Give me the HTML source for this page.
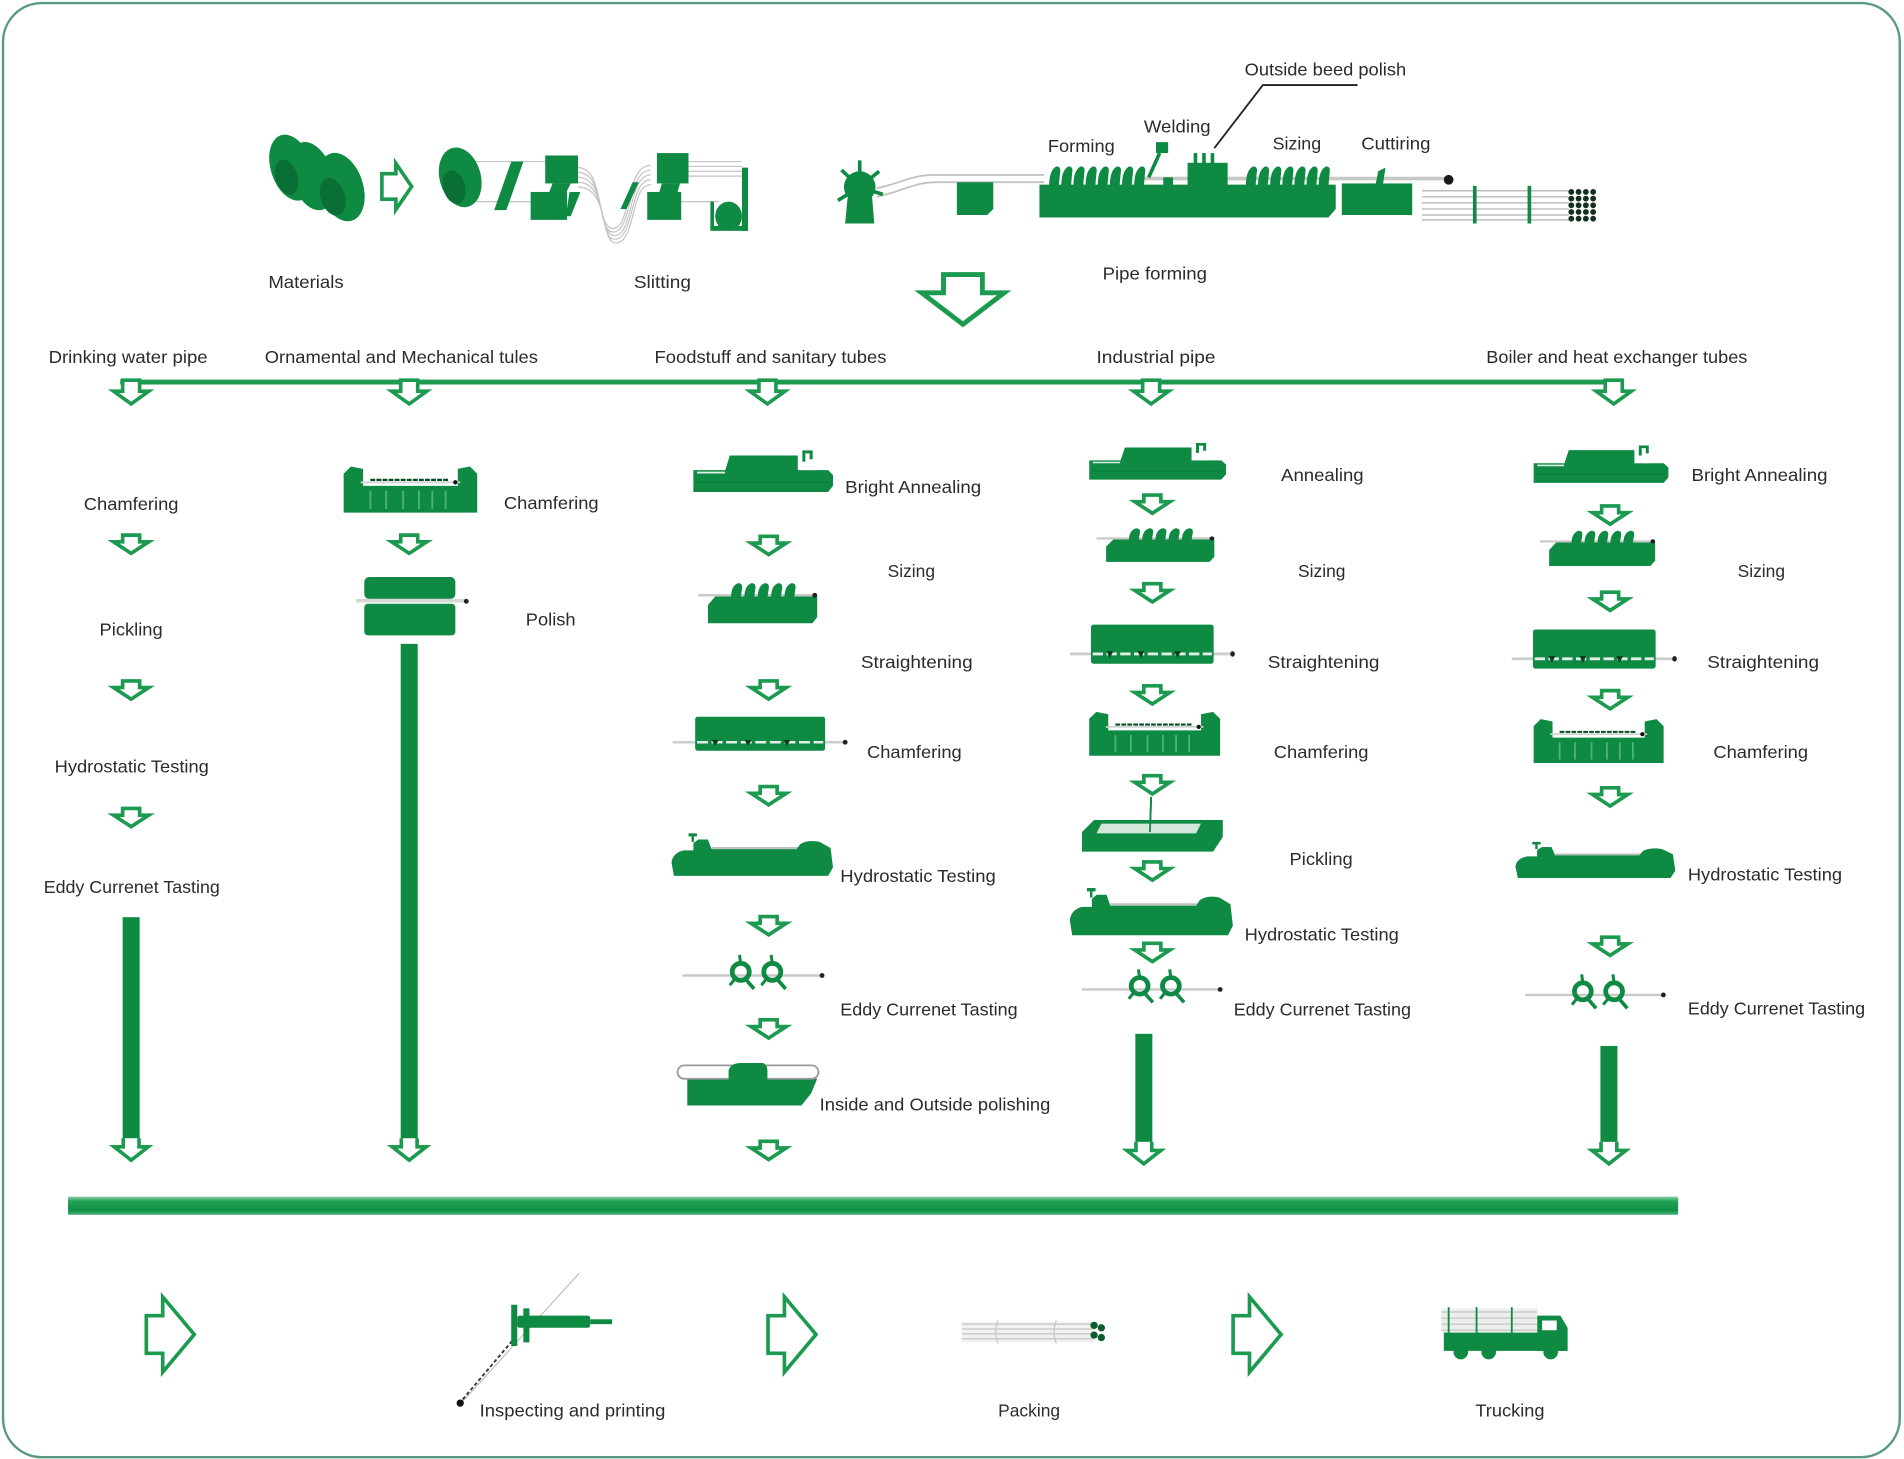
<!DOCTYPE html>
<html>
<head>
<meta charset="utf-8">
<style>
html,body{margin:0;padding:0;background:#fff;}
svg{display:block;}
text{font-family:"Liberation Sans",sans-serif;font-size:14.5px;fill:#2b2b2b;}
</style>
</head>
<body>
<svg width="1904" height="1459" viewBox="0 0 1568 1201" preserveAspectRatio="none" xmlns="http://www.w3.org/2000/svg">
<defs>
  <linearGradient id="barG" x1="0" y1="0" x2="0" y2="1">
    <stop offset="0" stop-color="#8fd2a8"/>
    <stop offset="0.25" stop-color="#22a358"/>
    <stop offset="0.75" stop-color="#0f9045"/>
    <stop offset="1" stop-color="#4db27a"/>
  </linearGradient>
  <!-- small hollow down arrow -->
  <path id="da" d="M-7,1.5 H7 V7 H14.5 L0,16.5 L-14.5,7 H-7 Z" fill="#fff" stroke="#1b9a50" stroke-width="3" stroke-linejoin="miter"/>
  <path id="dat" d="M-7,0 H7 V9 H14.5 L0,19.5 L-14.5,9 H-7 Z" fill="#fff" stroke="#1b9a50" stroke-width="3"/>
  <path id="dab" d="M-6.5,0 V7 H-14 L0,18 L14,7 H6.5 V0" fill="#fff" stroke="#1b9a50" stroke-width="3"/>

  <!-- Annealing machine -->
  <g id="mA">
    <polygon points="0,17 111,17 115,21 115,30 111,35 0,35" fill="#0e8a43"/>
    <polygon points="30,5 86,5 86,18 26,18" fill="#0e8a43"/>
    <path d="M91,18 V2 H97 V8" stroke="#0e8a43" stroke-width="2.5" fill="none"/>
    <rect x="88" y="10" width="11" height="7" fill="#fff"/>
    <line x1="3" y1="19" x2="26" y2="19" stroke="#dfeee5" stroke-width="1.5"/>
    <line x1="2" y1="27" x2="112" y2="27" stroke="#0b7a3a" stroke-width="1"/>
  </g>
  <!-- Sizing machine -->
  <g id="mS">
    <line x1="0" y1="11" x2="96" y2="11" stroke="#c9c9c9" stroke-width="2"/>
    <polygon points="8,19 14,12 98,12 98,29 94,34 8,34" fill="#0e8a43"/>
    <path d="M27,13 Q27,3 33,1 Q37,1 36,6 L35,13 Z M38,13 Q38,3 44,1 Q48,1 47,6 L46,13 Z M49,13 Q49,3 55,1 Q59,1 58,6 L57,13 Z M60,13 Q60,3 66,1 Q70,1 69,6 L68,13 Z M71,13 Q71,3 77,1 Q81,1 80,6 L79,13 Z" fill="#0e8a43"/>
    <line x1="80" y1="11" x2="96" y2="11" stroke="#c9c9c9" stroke-width="2"/>
    <circle cx="96" cy="11" r="2" fill="#222"/>
  </g>
  <!-- Straightening machine -->
  <g id="mT">
    <line x1="0" y1="22" x2="144" y2="22" stroke="#c9cfcb" stroke-width="2"/>
    <rect x="18.5" y="1" width="107" height="28" rx="2" fill="#0e8a43"/>
    <line x1="20" y1="22" x2="124" y2="22" stroke="#e4eee8" stroke-width="2" stroke-dasharray="9 3"/>
    <polygon points="32,20 38,20 35,25" fill="#07401f"/>
    <polygon points="59,20 65,20 62,25" fill="#07401f"/>
    <polygon points="91,20 97,20 94,25" fill="#07401f"/>
    <circle cx="142" cy="22" r="2" fill="#222"/>
  </g>
  <!-- Chamfering machine -->
  <g id="mC">
    <path d="M0,6 L6,0 L16,2 V16 H94 V2 L104,0 L110,6 V38 H0 Z" fill="#0e8a43"/>
    <line x1="14" y1="13" x2="96" y2="13" stroke="#cfd6d2" stroke-width="1.5"/>
    <line x1="22" y1="11" x2="86" y2="11" stroke="#0a4a22" stroke-width="1.8" stroke-dasharray="4 1"/>
    <circle cx="92" cy="13" r="1.8" fill="#111"/>
    <g stroke="#4fb37a" stroke-width="1.5">
      <line x1="22" y1="20" x2="22" y2="35"/>
      <line x1="35" y1="20" x2="35" y2="35"/>
      <line x1="49" y1="20" x2="49" y2="35"/>
      <line x1="62" y1="20" x2="62" y2="35"/>
      <line x1="73" y1="20" x2="73" y2="35"/>
      <line x1="84" y1="20" x2="84" y2="35"/>
    </g>
  </g>
  <!-- Hydrostatic machine -->
  <g id="mH">
    <line x1="33" y1="12" x2="104" y2="12" stroke="#bdbdbd" stroke-width="1.5"/>
    <path d="M0,24 Q1,16 10,14 H18 V8 L22,5 H30 L33,13 H103 L106,9 Q112,5 122,7 L131,12 L133,28 L129,35 H2 Z" fill="#0e8a43"/>
    <rect x="14" y="0" width="7" height="2.5" fill="#0e8a43"/>
    <line x1="17.5" y1="2" x2="17.5" y2="7" stroke="#0e8a43" stroke-width="2"/>
  </g>
  <!-- Eddy current machine -->
  <g id="mE">
    <line x1="0" y1="18" x2="115" y2="18" stroke="#c8c8c8" stroke-width="2"/>
    <circle cx="115" cy="18" r="2" fill="#222"/>
    <g stroke="#0e8a43" fill="none">
      <circle cx="48" cy="15" r="7" stroke-width="4"/>
      <circle cx="74" cy="15" r="7" stroke-width="4"/>
      <line x1="48" y1="8" x2="47" y2="1" stroke-width="2.5"/>
      <line x1="74" y1="8" x2="73" y2="1" stroke-width="2.5"/>
      <line x1="52" y1="21" x2="59" y2="29" stroke-width="3"/>
      <line x1="78" y1="21" x2="85" y2="29" stroke-width="3"/>
      <line x1="43" y1="21" x2="39" y2="26" stroke-width="2.5"/>
      <line x1="69" y1="21" x2="65" y2="26" stroke-width="2.5"/>
    </g>
  </g>
  <!-- Pickling machine -->
  <g id="mP">
    <line x1="57" y1="-19" x2="56" y2="12" stroke="#0e8a43" stroke-width="1.5"/>
    <path d="M0,10 L10,0 H116 V14 L108,26 H0 Z" fill="#0e8a43"/>
    <polygon points="16,3 98,3 94,11 12,11" fill="#d5e6da"/>
    <line x1="57" y1="-19" x2="56" y2="10" stroke="#0e8a43" stroke-width="1.5"/>
  </g>
</defs>

<!-- Border -->
<rect x="2.5" y="2.5" width="1562" height="1197" rx="32" ry="32" fill="#fff" stroke="#5b9a80" stroke-width="2"/>

<!-- ===== TOP: Materials ===== -->
<g fill="#0e8a43">
  <ellipse cx="240" cy="138" rx="17" ry="28" transform="rotate(-18 240 138)"/>
  <ellipse cx="257" cy="145" rx="17" ry="29" transform="rotate(-18 257 145)"/>
  <ellipse cx="281" cy="154" rx="18" ry="29" transform="rotate(-18 281 154)"/>
</g>
<g fill="#0a6f35">
  <ellipse cx="236" cy="146" rx="9" ry="15" transform="rotate(-18 236 146)"/>
  <ellipse cx="274" cy="162" rx="10" ry="16" transform="rotate(-18 274 162)"/>
</g>
<path d="M314.5,143 H326 V134.5 L339,153.5 L326,172.5 V164 H314.5 Z" fill="#fff" stroke="#1b9a50" stroke-width="3"/>

<!-- Slitting line -->
<g stroke="#c4c4c4" stroke-width="1" fill="none">
  <line x1="385" y1="133" x2="453" y2="133"/>
  <line x1="385" y1="166" x2="440" y2="166"/>
  <path d="M476,138 C498,138 490,188 505,188 C520,188 515,136 536,136"/>
  <path d="M476,142 C499,142 491,191 505,191 C521,191 516,140 536,140"/>
  <path d="M476,146 C500,146 492,194 506,194 C522,194 517,144 536,144"/>
  <path d="M476,150 C501,150 493,197 506,197 C523,197 518,148 536,148"/>
  <path d="M476,154 C502,154 494,200 507,200 C524,200 519,152 536,152"/>
  <line x1="567" y1="133" x2="611" y2="133"/>
  <line x1="567" y1="137" x2="611" y2="137"/>
  <line x1="567" y1="141" x2="611" y2="141"/>
  <line x1="567" y1="145" x2="611" y2="145"/>
  <line x1="560" y1="166" x2="592" y2="166"/>
</g>
<g fill="#0e8a43">
  <ellipse cx="379" cy="146" rx="17" ry="25" transform="rotate(-15 379 146)"/>
  <polygon points="421,133 431,133 417,173 407,173"/>
  <rect x="449" y="128" width="27" height="23"/>
  <polygon points="455,151 470,151 466,159 452,159"/>
  <rect x="437" y="158" width="30" height="23"/>
  <polygon points="469,158 478,158 470,178 466,178"/>
  <polygon points="521,150 526,150 516,172 511,172"/>
  <rect x="541" y="126" width="26" height="25"/>
  <rect x="533" y="158" width="28" height="23"/>
  <polygon points="545,151 560,151 558,158 543,158"/>
  <rect x="611" y="138" width="5" height="52"/>
  <ellipse cx="600" cy="178" rx="11" ry="12"/>
  <rect x="585" y="186" width="31" height="4"/>
  <rect x="585" y="166" width="3" height="22"/>
</g>
<ellipse cx="374" cy="154" rx="9" ry="14" transform="rotate(-15 374 154)" fill="#0a6f35"/>

<!-- Pipe forming line -->
<g stroke="#c2c2c2" stroke-width="1.5" fill="none">
  <path d="M722,155 C745,150 750,144 770,144 L860,144"/>
  <path d="M722,162 C745,157 752,150 772,150 L860,150"/>
</g>
<line x1="940" y1="147" x2="1193" y2="147" stroke="#c8c8c8" stroke-width="3"/>
<circle cx="1193" cy="148" r="4" fill="#1a1a1a"/>
<g fill="#0e8a43">
  <circle cx="708" cy="154" r="13"/>
  <g stroke="#0e8a43" stroke-width="3">
    <line x1="708" y1="154" x2="708" y2="132"/>
    <line x1="708" y1="154" x2="693" y2="140"/>
    <line x1="708" y1="154" x2="724" y2="141"/>
    <line x1="708" y1="154" x2="690" y2="165"/>
    <line x1="708" y1="154" x2="727" y2="160"/>
  </g>
  <polygon points="698,163 718,160 720,184 696,184"/>
  <polygon points="788,150 818,150 818,172 813,177 788,177"/>
  <polygon points="856,152 1100,152 1100,172 1094,179 856,179"/>
  <path d="M864,153 Q864,140 870,137 Q874,137 873,142 L872,153 Z M874,153 Q874,140 880,137 Q884,137 883,142 L882,153 Z M884,153 Q884,140 890,137 Q894,137 893,142 L892,153 Z M894,153 Q894,140 900,137 Q904,137 903,142 L902,153 Z M904,153 Q904,140 910,137 Q914,137 913,142 L912,153 Z M914,153 Q914,140 920,137 Q924,137 923,142 L922,153 Z M924,153 Q924,140 930,137 Q934,137 933,142 L932,153 Z M934,153 Q934,140 940,137 Q944,137 943,142 L942,153 Z"/>
  <path d="M1026,153 Q1026,140 1032,137 Q1036,137 1035,142 L1034,153 Z M1036,153 Q1036,140 1042,137 Q1046,137 1045,142 L1044,153 Z M1046,153 Q1046,140 1052,137 Q1056,137 1055,142 L1054,153 Z M1056,153 Q1056,140 1062,137 Q1066,137 1065,142 L1064,153 Z M1066,153 Q1066,140 1072,137 Q1076,137 1075,142 L1074,153 Z M1076,153 Q1076,140 1082,137 Q1086,137 1085,142 L1084,153 Z M1086,153 Q1086,140 1092,137 Q1096,137 1095,142 L1094,153 Z"/>
  <rect x="952" y="117" width="10" height="9"/>
  <rect x="983" y="126" width="3" height="10"/>
  <rect x="990" y="126" width="3" height="10"/>
  <rect x="997" y="126" width="3" height="10"/>
  <rect x="978" y="134" width="33" height="19"/>
  <rect x="958" y="146" width="8" height="7"/>
  <rect x="1105" y="151" width="58" height="26"/>
  <polygon points="1133,151 1135,141 1141,138 1139,151"/>
</g>
<line x1="955" y1="126" x2="946" y2="146" stroke="#0e8a43" stroke-width="3"/>
<!-- pipes bundle -->
<g stroke="#bdbdbd" stroke-width="1.2">
  <line x1="1171" y1="157" x2="1292" y2="157"/>
  <line x1="1171" y1="162" x2="1292" y2="162"/>
  <line x1="1171" y1="167" x2="1292" y2="167"/>
  <line x1="1171" y1="172" x2="1292" y2="172"/>
  <line x1="1171" y1="177" x2="1292" y2="177"/>
  <line x1="1171" y1="181" x2="1292" y2="181"/>
</g>
<rect x="1213" y="153" width="3" height="31" fill="#0e8a43"/>
<rect x="1258" y="153" width="3" height="31" fill="#0e8a43"/>
<g fill="#13301f">
  <circle cx="1294" cy="158" r="2.4"/><circle cx="1300" cy="158" r="2.4"/><circle cx="1306" cy="158" r="2.4"/><circle cx="1312" cy="158" r="2.4"/>
  <circle cx="1294" cy="163.5" r="2.4"/><circle cx="1300" cy="163.5" r="2.4"/><circle cx="1306" cy="163.5" r="2.4"/><circle cx="1312" cy="163.5" r="2.4"/>
  <circle cx="1294" cy="169" r="2.4"/><circle cx="1300" cy="169" r="2.4"/><circle cx="1306" cy="169" r="2.4"/><circle cx="1312" cy="169" r="2.4"/>
  <circle cx="1294" cy="174.5" r="2.4"/><circle cx="1300" cy="174.5" r="2.4"/><circle cx="1306" cy="174.5" r="2.4"/><circle cx="1312" cy="174.5" r="2.4"/>
  <circle cx="1294" cy="180" r="2.4"/><circle cx="1300" cy="180" r="2.4"/><circle cx="1306" cy="180" r="2.4"/><circle cx="1312" cy="180" r="2.4"/>
</g>

<!-- leader line -->
<path d="M1118,70 H1040 L1000,122" fill="none" stroke="#222" stroke-width="1.5"/>

<!-- top labels -->
<text x="1025" y="62" textLength="133" lengthAdjust="spacingAndGlyphs">Outside beed polish</text>
<text x="942" y="109" textLength="55" lengthAdjust="spacingAndGlyphs">Welding</text>
<text x="863" y="125" textLength="55" lengthAdjust="spacingAndGlyphs">Forming</text>
<text x="1048" y="123" textLength="40" lengthAdjust="spacingAndGlyphs">Sizing</text>
<text x="1121" y="123" textLength="57" lengthAdjust="spacingAndGlyphs">Cuttiring</text>
<text x="221" y="237" textLength="62" lengthAdjust="spacingAndGlyphs">Materials</text>
<text x="522" y="237" textLength="47" lengthAdjust="spacingAndGlyphs">Slitting</text>
<text x="908" y="230" textLength="86" lengthAdjust="spacingAndGlyphs">Pipe forming</text>

<!-- big down arrow -->
<path d="M777,226 H809 V241 H827 L793,267 L759,241 H777 Z" fill="#fff" stroke="#1b9a50" stroke-width="4"/>

<!-- headers -->
<text x="40" y="299" textLength="131" lengthAdjust="spacingAndGlyphs">Drinking water pipe</text>
<text x="218" y="299" textLength="225" lengthAdjust="spacingAndGlyphs">Ornamental and Mechanical tules</text>
<text x="539" y="299" textLength="191" lengthAdjust="spacingAndGlyphs">Foodstuff and sanitary tubes</text>
<text x="903" y="299" textLength="98" lengthAdjust="spacingAndGlyphs">Industrial pipe</text>
<text x="1224" y="299" textLength="215" lengthAdjust="spacingAndGlyphs">Boiler and heat exchanger tubes</text>

<!-- distribution line + top arrows -->
<rect x="99" y="312.5" width="1233" height="4" fill="#1c9a50"/>
<use href="#dat" x="108" y="313"/>
<use href="#dat" x="337" y="313"/>
<use href="#dat" x="632" y="313"/>
<use href="#dat" x="948" y="313"/>
<use href="#dat" x="1329" y="313"/>

<!-- ===== Column 1 ===== -->
<text x="69" y="420" textLength="78" lengthAdjust="spacingAndGlyphs">Chamfering</text>
<use href="#da" x="108" y="439"/>
<text x="82" y="523" textLength="52" lengthAdjust="spacingAndGlyphs">Pickling</text>
<use href="#da" x="108" y="559"/>
<text x="45" y="636" textLength="127" lengthAdjust="spacingAndGlyphs">Hydrostatic Testing</text>
<use href="#da" x="108" y="664"/>
<text x="36" y="735" textLength="145" lengthAdjust="spacingAndGlyphs">Eddy Currenet Tasting</text>
<rect x="101" y="755" width="14" height="183" fill="#0e8a43"/>
<use href="#dab" x="108" y="937"/>

<!-- ===== Column 2 ===== -->
<use href="#mC" transform="translate(283,384)"/>
<text x="415" y="419" textLength="78" lengthAdjust="spacingAndGlyphs">Chamfering</text>
<use href="#da" x="337" y="439"/>
<rect x="300" y="475" width="75" height="18" rx="4" fill="#0e8a43"/>
<rect x="300" y="497" width="75" height="26" rx="3" fill="#0e8a43"/>
<line x1="293" y1="494.5" x2="384" y2="494.5" stroke="#d5d9d6" stroke-width="3"/>
<circle cx="384" cy="495" r="2" fill="#222"/>
<text x="433" y="515" textLength="41" lengthAdjust="spacingAndGlyphs">Polish</text>
<rect x="330" y="530" width="14" height="408" fill="#0e8a43"/>
<use href="#dab" x="337" y="937"/>

<!-- ===== Column 3 ===== -->
<use href="#mA" transform="translate(571,370)"/>
<text x="696" y="406" textLength="112" lengthAdjust="spacingAndGlyphs">Bright Annealing</text>
<use href="#da" x="633" y="440"/>
<text x="731" y="475" textLength="39" lengthAdjust="spacingAndGlyphs">Sizing</text>
<use href="#mS" transform="translate(575,479)"/>
<text x="709" y="550" textLength="92" lengthAdjust="spacingAndGlyphs">Straightening</text>
<use href="#da" x="633" y="559"/>
<use href="#mT" transform="translate(554,589)"/>
<text x="714" y="624" textLength="78" lengthAdjust="spacingAndGlyphs">Chamfering</text>
<use href="#da" x="633" y="646"/>
<use href="#mH" transform="translate(553,686)"/>
<text x="692" y="726" textLength="128" lengthAdjust="spacingAndGlyphs">Hydrostatic Testing</text>
<use href="#da" x="633" y="753"/>
<use href="#mE" transform="translate(562,785)"/>
<text x="692" y="836" textLength="146" lengthAdjust="spacingAndGlyphs">Eddy Currenet Tasting</text>
<use href="#da" x="633" y="838"/>
<path d="M566,888 H673 L668,900 L660,910 H566 Z" fill="#0e8a43"/>
<rect x="558" y="877" width="116" height="11" rx="5.5" fill="#fff" stroke="#9a9a9a" stroke-width="1.5"/>
<path d="M600,889 V881 Q602,875 610,875 H628 Q632,876 632,882 V889 Z" fill="#0e8a43"/>
<text x="675" y="914" textLength="190" lengthAdjust="spacingAndGlyphs">Inside and Outside polishing</text>
<use href="#da" x="633" y="938"/>

<!-- ===== Column 4 ===== -->
<use href="#mA" transform="translate(897,364) scale(0.98,0.88)"/>
<text x="1055" y="396" textLength="68" lengthAdjust="spacingAndGlyphs">Annealing</text>
<use href="#da" x="949" y="406"/>
<use href="#mS" transform="translate(903,434) scale(0.99,0.84)"/>
<text x="1069" y="475" textLength="39" lengthAdjust="spacingAndGlyphs">Sizing</text>
<use href="#da" x="949" y="479"/>
<use href="#mT" transform="translate(881,513) scale(0.944,1.15)"/>
<text x="1044" y="550" textLength="92" lengthAdjust="spacingAndGlyphs">Straightening</text>
<use href="#da" x="949" y="563"/>
<use href="#mC" transform="translate(897,586) scale(0.98,0.95)"/>
<text x="1049" y="624" textLength="78" lengthAdjust="spacingAndGlyphs">Chamfering</text>
<use href="#da" x="949" y="637"/>
<use href="#mP" transform="translate(891,675)"/>
<text x="1062" y="712" textLength="52" lengthAdjust="spacingAndGlyphs">Pickling</text>
<use href="#da" x="949" y="708"/>
<use href="#mH" transform="translate(881,731) scale(1.01,1.11)"/>
<text x="1025" y="774" textLength="127" lengthAdjust="spacingAndGlyphs">Hydrostatic Testing</text>
<use href="#da" x="949" y="775"/>
<use href="#mE" transform="translate(891,797) scale(0.99,0.97)"/>
<text x="1016" y="836" textLength="146" lengthAdjust="spacingAndGlyphs">Eddy Currenet Tasting</text>
<rect x="935" y="851" width="14" height="89" fill="#0e8a43"/>
<use href="#dab" x="942" y="940"/>

<!-- ===== Column 5 ===== -->
<use href="#mA" transform="translate(1263,366) scale(0.965,0.9)"/>
<text x="1393" y="396" textLength="112" lengthAdjust="spacingAndGlyphs">Bright Annealing</text>
<use href="#da" x="1326" y="415"/>
<use href="#mS" transform="translate(1268,436) scale(0.97,0.88)"/>
<text x="1431" y="475" textLength="39" lengthAdjust="spacingAndGlyphs">Sizing</text>
<use href="#da" x="1326" y="486"/>
<use href="#mT" transform="translate(1245,517) scale(0.944,1.15)"/>
<text x="1406" y="550" textLength="92" lengthAdjust="spacingAndGlyphs">Straightening</text>
<use href="#da" x="1326" y="567"/>
<use href="#mC" transform="translate(1263,592) scale(0.973,0.95)"/>
<text x="1411" y="624" textLength="78" lengthAdjust="spacingAndGlyphs">Chamfering</text>
<use href="#da" x="1326" y="647"/>
<use href="#mH" transform="translate(1248,693) scale(0.99,0.85)"/>
<text x="1390" y="725" textLength="127" lengthAdjust="spacingAndGlyphs">Hydrostatic Testing</text>
<use href="#da" x="1326" y="770"/>
<use href="#mE" transform="translate(1256,801) scale(0.99,1)"/>
<text x="1390" y="835" textLength="146" lengthAdjust="spacingAndGlyphs">Eddy Currenet Tasting</text>
<rect x="1318" y="861" width="14" height="79" fill="#0e8a43"/>
<use href="#dab" x="1325" y="940"/>

<!-- ===== Collector bar ===== -->
<rect x="56" y="985" width="1326" height="15" fill="url(#barG)"/>

<!-- ===== Bottom row ===== -->
<path d="M120.5,1083 H134 V1067.5 L160,1098.5 L134,1129.5 V1114 H120.5 Z" fill="#fff" stroke="#1b9a50" stroke-width="3"/>
<path d="M632.5,1083 H646 V1067.5 L672,1098.5 L646,1129.5 V1114 H632.5 Z" fill="#fff" stroke="#1b9a50" stroke-width="3"/>
<path d="M1015.5,1083 H1029 V1067.5 L1055,1098.5 L1029,1129.5 V1114 H1015.5 Z" fill="#fff" stroke="#1b9a50" stroke-width="3"/>

<!-- caliper -->
<line x1="477" y1="1048" x2="378" y2="1157" stroke="#b5b5b5" stroke-width="0.8"/>
<line x1="425" y1="1100" x2="381" y2="1152" stroke="#333" stroke-width="1.5" stroke-dasharray="3 2"/>
<circle cx="379" cy="1155" r="3" fill="#111"/>
<g fill="#0e8a43">
  <rect x="421" y="1074" width="5" height="34"/>
  <rect x="431" y="1077" width="5" height="28"/>
  <rect x="426" y="1083" width="60" height="10" rx="2"/>
  <rect x="486" y="1086" width="18" height="4"/>
</g>
<text x="395" y="1166" textLength="153" lengthAdjust="spacingAndGlyphs">Inspecting and printing</text>

<!-- packing -->
<rect x="792" y="1088" width="110" height="17" fill="#f0f2f0"/>
<g stroke="#c5c5c5" stroke-width="1">
  <line x1="792" y1="1090" x2="900" y2="1090"/>
  <line x1="792" y1="1094" x2="900" y2="1094"/>
  <line x1="792" y1="1098" x2="900" y2="1098"/>
  <line x1="792" y1="1102" x2="900" y2="1102"/>
  <path d="M822,1087 Q818,1096 822,1106" fill="none"/>
  <path d="M870,1087 Q866,1096 870,1106" fill="none"/>
</g>
<g fill="#0d5a2f">
  <circle cx="901" cy="1091" r="3"/><circle cx="907" cy="1093" r="3"/>
  <circle cx="901" cy="1099" r="3"/><circle cx="907" cy="1101" r="3"/>
</g>
<text x="822" y="1166" textLength="51" lengthAdjust="spacingAndGlyphs">Packing</text>

<!-- truck -->
<rect x="1187" y="1077" width="79" height="20" fill="#eceeec"/>
<g stroke="#c4c4c4" stroke-width="1">
  <line x1="1187" y1="1080" x2="1266" y2="1080"/>
  <line x1="1187" y1="1085" x2="1266" y2="1085"/>
  <line x1="1187" y1="1090" x2="1266" y2="1090"/>
  <line x1="1187" y1="1095" x2="1266" y2="1095"/>
</g>
<g stroke="#0e8a43" stroke-width="1.5">
  <line x1="1193" y1="1076" x2="1193" y2="1097"/>
  <line x1="1216" y1="1076" x2="1216" y2="1097"/>
  <line x1="1245" y1="1076" x2="1245" y2="1097"/>
</g>
<g fill="#0e8a43">
  <polygon points="1189,1097 1290,1097 1290,1112 1189,1112"/>
  <path d="M1266,1083 H1285 L1291,1093 V1112 H1266 Z"/>
  <circle cx="1203" cy="1113" r="6"/>
  <circle cx="1226" cy="1113" r="6"/>
  <circle cx="1277" cy="1113" r="6"/>
</g>
<rect x="1270" y="1087" width="12" height="8" fill="#fff"/>
<text x="1215" y="1166" textLength="57" lengthAdjust="spacingAndGlyphs">Trucking</text>
</svg>
</body>
</html>
